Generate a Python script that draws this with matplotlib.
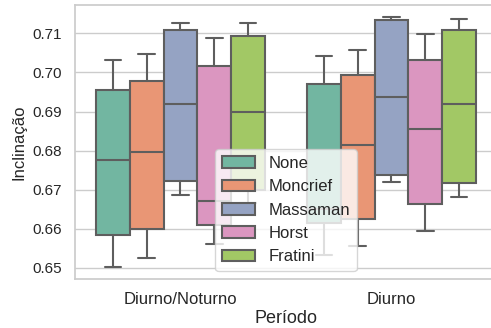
import colorsys
import matplotlib
matplotlib.use("Agg")
import matplotlib.pyplot as plt
import matplotlib.colors as mcolors
from matplotlib.patches import Patch
import seaborn as sns

# Period categories and model names
periods = ["Diurno/Noturno", "Diurno"]
models = ["None", "Moncrief", "Massaman", "Horst", "Fratini"]

# Box statistics per model, one value per period
whislo = {
    "None":     [0.6502, 0.6533],
    "Moncrief": [0.6525, 0.6555],
    "Massaman": [0.6687, 0.6719],
    "Horst":    [0.6560, 0.6593],
    "Fratini":  [0.6665, 0.6680],
}
q1 = {
    "None":     [0.6584, 0.6614],
    "Moncrief": [0.6600, 0.6625],
    "Massaman": [0.6723, 0.6738],
    "Horst":    [0.6610, 0.6664],
    "Fratini":  [0.6698, 0.6717],
}
med = {
    "None":     [0.6777, 0.6650],
    "Moncrief": [0.6797, 0.6815],
    "Massaman": [0.6918, 0.6938],
    "Horst":    [0.6670, 0.6855],
    "Fratini":  [0.6900, 0.6918],
}
q3 = {
    "None":     [0.6956, 0.6971],
    "Moncrief": [0.6978, 0.6993],
    "Massaman": [0.7109, 0.7135],
    "Horst":    [0.7017, 0.7033],
    "Fratini":  [0.7093, 0.7109],
}
whishi = {
    "None":     [0.7032, 0.7041],
    "Moncrief": [0.7047, 0.7058],
    "Massaman": [0.7128, 0.7141],
    "Horst":    [0.7088, 0.7099],
    "Fratini":  [0.7127, 0.7138],
}

sns.set_theme(style="whitegrid")
plt.rcParams["font.family"] = ["Liberation Sans", "DejaVu Sans"]


def desaturate(color, prop=0.75):
    r, g, b = mcolors.to_rgb(color)
    h, l, s = colorsys.rgb_to_hls(r, g, b)
    return colorsys.hls_to_rgb(h, l, s * prop)


palette = [desaturate(c) for c in sns.color_palette("Set2", len(models))]
line_gray = "#5e5e5e"

fig = plt.figure(figsize=(4.91, 3.28), dpi=100)
ax = fig.add_axes([0.1527, 0.1485, 0.8595, 0.8363])

n = len(models)
width = 0.8 / n
for j, m in enumerate(models):
    offset = -0.4 + width * (j + 0.5)
    stats = []
    for i in range(len(periods)):
        stats.append(dict(whislo=whislo[m][i], q1=q1[m][i], med=med[m][i],
                          q3=q3[m][i], whishi=whishi[m][i], fliers=[]))
    positions = [i + offset for i in range(len(periods))]
    ax.bxp(stats, positions=positions, widths=width, capwidths=width / 2,
           patch_artist=True, showfliers=False, manage_ticks=False,
           boxprops=dict(facecolor=palette[j], edgecolor=line_gray, linewidth=1.5),
           whiskerprops=dict(color=line_gray, linewidth=1.5),
           capprops=dict(color=line_gray, linewidth=1.5),
           medianprops=dict(color=line_gray, linewidth=1.5))

ax.set_xlim(-0.5, 1.5)
ax.set_xticks(range(len(periods)))
ax.set_xticklabels(periods, fontsize=12)
ax.grid(False, axis="x")
ax.set_xlabel("Período", fontsize=13, labelpad=1.5)
ax.set_ylabel("Inclinação", fontsize=12)

handles = [Patch(facecolor=palette[j], edgecolor=line_gray, linewidth=1.5, label=m)
           for j, m in enumerate(models)]
ax.legend(handles=handles, loc="lower center", fontsize=12)

fig.savefig("out.png", dpi=100)
